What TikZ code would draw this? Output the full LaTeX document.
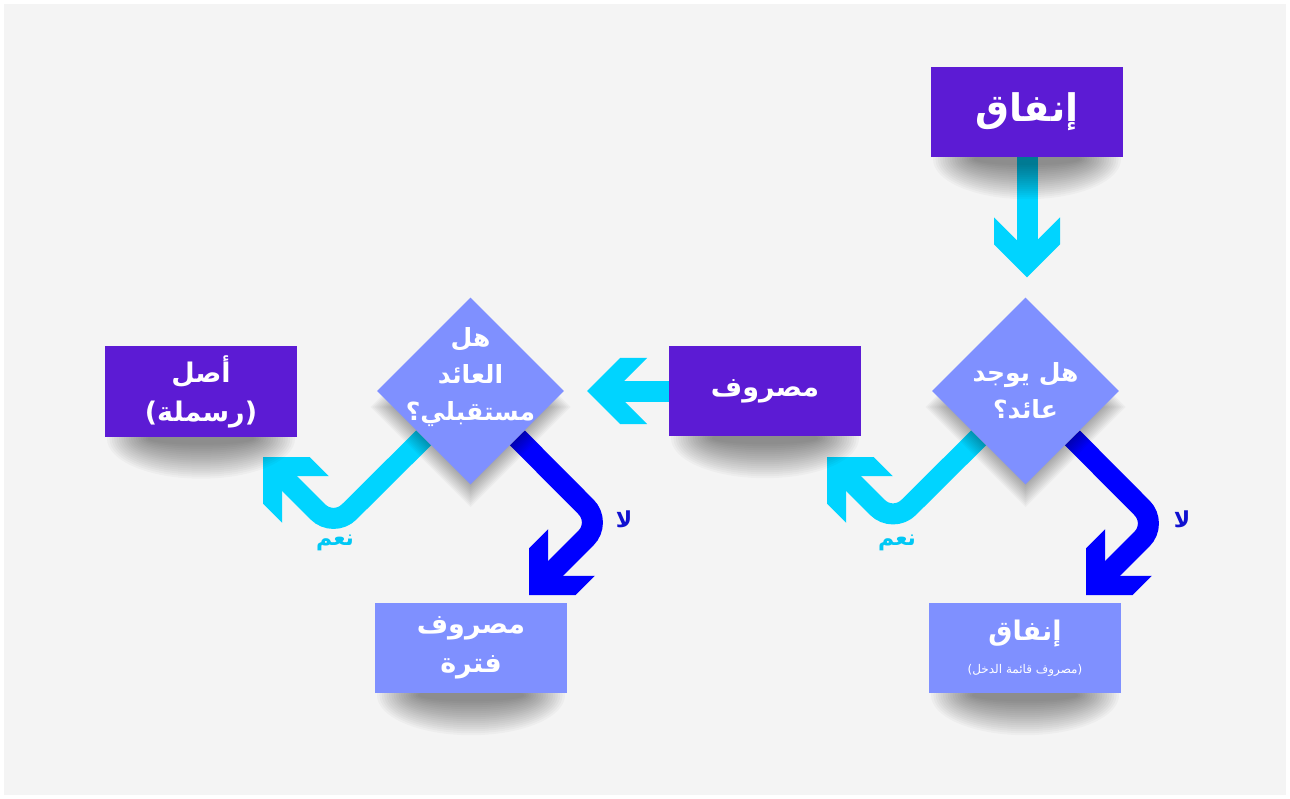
\documentclass[tikz,border=0pt]{standalone}
\usepackage{fontspec}
\newfontfamily\arabicfont[Script=Arabic]{DejaVu Sans}
\TeXXeTstate=1
\usetikzlibrary{shapes.geometric}
\usetikzlibrary{arrows.meta}

\definecolor{bgGray}{HTML}{F4F4F4}
\definecolor{deepPurple}{HTML}{5C1BD4}
\definecolor{periwinkle}{HTML}{7F90FF}
\definecolor{skyCyan}{HTML}{00D4FF}
\definecolor{pureBlue}{HTML}{0000FF}
\definecolor{yesCyan}{HTML}{00C8F5}
\definecolor{noBlue}{HTML}{1010D0}

\newcommand{\artext}[1]{\beginR #1\endR}

% soft shadows: stacked see-through fills
\newcommand{\boxshadow}[1]{%
  \foreach \k in {0,...,17}
    \fill[black, fill opacity=0.026] ([yshift=-2pt]#1.south) ellipse [x radius={94-2.4*\k}, y radius={40-2*\k}];}
\newcommand{\diamondshadow}[1]{%
  \foreach \k in {0,...,15}
    \fill[black, fill opacity=0.03] ([yshift=-16pt]#1.center) +(0,{-(100-2.2*\k)}) -- +({100-2.2*\k},0) -- +(0,{100-2.2*\k}) -- +({-(100-2.2*\k)},0) -- cycle;}

\pgfdeclarelayer{bg}
\pgfdeclarelayer{arrows}
\pgfdeclarelayer{shade}
\pgfsetlayers{bg,arrows,shade,main}

% thick chevron head
\pgfdeclarearrow{
  name = Chevron,
  parameters = {\the\pgfarrowlength,\the\pgfarrowwidth},
  setup code = {
    \pgfarrowssettipend{0pt}
    \pgfarrowssetlineend{-.3\pgfarrowlength}
    \pgfarrowssetvisualbackend{-\pgfarrowlength}
    \pgfarrowssetbackend{-\pgfarrowlength}
    \pgfarrowshullpoint{0pt}{0pt}
    \pgfarrowsupperhullpoint{-\pgfarrowlength}{.5\pgfarrowwidth}
    \pgfarrowssavethe\pgfarrowlength
    \pgfarrowssavethe\pgfarrowwidth
  },
  drawing code = {
    \pgfpathmoveto{\pgfqpoint{0pt}{0pt}}
    \pgfpathlineto{\pgfqpoint{-.5\pgfarrowwidth}{.5\pgfarrowwidth}}
    \pgfpathlineto{\pgfqpoint{-\pgfarrowlength}{.5\pgfarrowwidth}}
    \pgfpathlineto{\pgfpointadd{\pgfqpoint{-\pgfarrowlength}{0pt}}{\pgfqpoint{.5\pgfarrowwidth}{0pt}}}
    \pgfpathlineto{\pgfqpoint{-\pgfarrowlength}{-.5\pgfarrowwidth}}
    \pgfpathlineto{\pgfqpoint{-.5\pgfarrowwidth}{-.5\pgfarrowwidth}}
    \pgfpathclose
    \pgfusepathqfill
  },
  defaults = {length = 60pt, width = 66pt}
}

\begin{document}
\begin{tikzpicture}[
        x=1pt, y=-1pt,
        box/.style={rectangle, minimum width=192pt, minimum height=90pt, inner sep=0pt, align=center, text=white, font=\arabicfont\bfseries\fontsize{27pt}{39pt}\selectfont},
        darkbox/.style={box, fill=deepPurple},
        lightbox/.style={box, fill=periwinkle},
        question/.style={diamond, aspect=1, fill=periwinkle, minimum width=187pt, minimum height=187pt, inner sep=0pt},
        qtext/.style={align=center, text=white, inner sep=0pt, font=\arabicfont\bfseries\fontsize{25pt}{37pt}\selectfont},
        flow/.style={line width=21pt, -{Chevron}},
        yesline/.style={flow, draw=skyCyan, rounded corners=22pt},
        noline/.style={flow, draw=pureBlue, rounded corners=22pt},
        yeslabel/.style={text=yesCyan, font=\arabicfont\bfseries\fontsize{22pt}{24pt}\selectfont},
        nolabel/.style={text=noBlue, font=\arabicfont\bfseries\fontsize{22pt}{24pt}\selectfont}
    ]

    \useasboundingbox (0,0) rectangle (1290,799);
    \begin{pgfonlayer}{bg}
        \fill[white] (0,0) rectangle (1290,799);
        \fill[bgGray] (4,4) rectangle (1286,795);
    \end{pgfonlayer}

    % --- boxes ---
    \node[darkbox] (spend) at (1027,112) {\fontsize{38pt}{40pt}\selectfont\artext{إنفاق}};
    \node[darkbox] (expense) at (765,391) {\artext{مصروف}};
    \node[darkbox] (asset) at (201,391.5) {\artext{أصل}\\\artext{(رسملة)}};
    \node[lightbox] (period) at (471,648) {\artext{مصروف}\\\artext{فترة}};
    \node[lightbox] (income) at (1025,648) {\artext{إنفاق}\\[-6pt]{\mdseries\fontsize{12pt}{14pt}\selectfont\artext{(مصروف قائمة الدخل)}}};

    % --- questions ---
    \node[question] (qret) at (1025.5,391) {};
    \node[qtext] (qretText) at (qret) {\artext{هل يوجد}\\\artext{عائد؟}};
    \node[question] (qfut) at (470.5,391) {};
    \node[qtext] (qfutText) at ([yshift=14pt]qfut.center) {\artext{هل}\\\artext{العائد}\\\artext{مستقبلي؟}};

    % --- shadows ---
    \begin{pgfonlayer}{shade}
        \boxshadow{spend}
        \boxshadow{expense}
        \boxshadow{asset}
        \boxshadow{period}
        \boxshadow{income}
        \diamondshadow{qret}
        \diamondshadow{qfut}
    \end{pgfonlayer}

    % --- bends ---
    \coordinate (yesRetBend) at (893,523);
    \coordinate (yesRetTip) at (827,457);
    \coordinate (noRetBend) at (1157.5,523.5);
    \coordinate (noRetTip) at (1086,595);
    \coordinate (yesFutBend) at (333.5,527.5);
    \coordinate (yesFutTip) at (263,457);
    \coordinate (noFutBend) at (601.5,522.5);
    \coordinate (noFutTip) at (529,595);

    % --- arrows ---
    \begin{pgfonlayer}{arrows}
        \draw[flow, draw=skyCyan, shorten >=20pt] (spend.south) -- (spend.south |- qret.north);
        \draw[flow, draw=skyCyan, shorten >=23pt] (expense.west) -- (qfut.east);
        \draw[yesline] (qret.-135) -- (yesRetBend) -- (yesRetTip);
        \draw[noline] (qret.-45) -- (noRetBend) -- (noRetTip);
        \draw[yesline] (qfut.-135) -- (yesFutBend) -- (yesFutTip);
        \draw[noline] (qfut.-45) -- (noFutBend) -- (noFutTip);
    \end{pgfonlayer}

    % --- labels ---
    \node[yeslabel] (yesRet) at (897,543) {\artext{نعم}};
    \node[nolabel] (noRet) at (1182,519) {\artext{لا}};
    \node[yeslabel] (yesFut) at (335,543) {\artext{نعم}};
    \node[nolabel] (noFut) at (624,519) {\artext{لا}};

\end{tikzpicture}
\end{document}
